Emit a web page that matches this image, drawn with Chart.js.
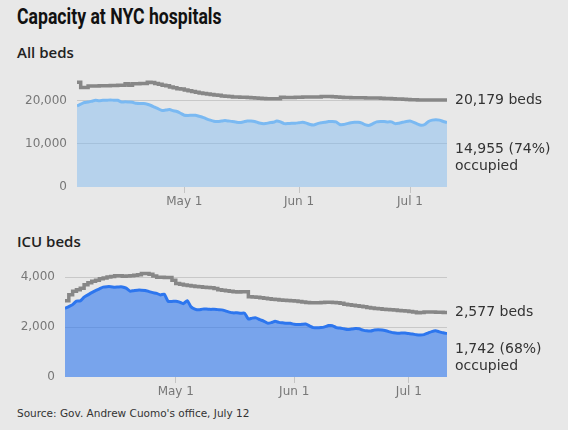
<!DOCTYPE html>
<html>
<head>
<meta charset="utf-8">
<script src="https://cdn.jsdelivr.net/npm/chart.js@4"></script>
<style>
  body { margin: 0; background: #e8e8e8; width: 568px; height: 430px; overflow: hidden; position: relative; font-family: "DejaVu Sans", sans-serif; }
  .title { position: absolute; left: 17px; top: 4px; font: bold 21.5px Roboto, sans-serif; color: #111; transform: scaleX(0.82); transform-origin: left top; white-space: nowrap; }
  .sub { position: absolute; left: 17px; font: 600 15px "Open Sans", sans-serif; color: #222; }
  .src { position: absolute; left: 17px; top: 407px; font-size: 10.5px; color: #333; }
  canvas { position: absolute; left: 0; }
</style>
</head>
<body>
<div class="title">Capacity at NYC hospitals</div>
<div class="sub" style="top:42px">All beds</div>
<div class="sub" style="top:231px">ICU beds</div>
<canvas id="allChart" width="568" height="155" style="top:62px"></canvas>
<canvas id="icuChart" width="568" height="157" style="top:250px"></canvas>
<div class="src">Source: Gov. Andrew Cuomo's office, July 12</div>

<script>
// daily values, Apr 2 -> Jul 11
const monthTicks = [29, 60, 90];
const monthLabels = ['May 1', 'Jun 1', 'Jul 1'];

const allBeds = [
    24300, 23100, 23100, 23400, 23450, 23450, 23500, 23500, 23500, 23550, 23550, 23600, 23600, 23950, 23600,
    23950, 23950, 24000, 24000, 24300, 24250, 24000, 23800, 23600, 23500, 23200, 23000, 22800, 22700, 22500,
    22300, 22150, 22000, 21800, 21700, 21550, 21450, 21350, 21250, 21100, 21050, 21000, 20900, 20850, 20800,
    20800, 20750, 20700, 20650, 20600, 20550, 20450, 20450, 20450, 20450, 20800, 20750, 20750, 20750, 20800,
    20800, 20850, 20850, 20850, 20850, 20900, 21000, 21000, 21000, 20950, 20900, 20800, 20750, 20750, 20700,
    20700, 20700, 20700, 20650, 20650, 20650, 20650, 20600, 20550, 20500, 20450, 20400, 20400, 20350, 20300,
    20250, 20250, 20200, 20200, 20200, 20200, 20200, 20200, 20200, 20180, 20179
];
const allOccupied = [
    18800, 19200, 19600, 19700, 19900, 20100, 20000, 20100, 20100, 20200, 20100, 20100, 19700, 19750, 19700,
    19650, 19400, 19350, 19350, 19200, 18900, 18500, 18100, 17750, 17850, 17950, 17700, 17500, 17100, 16650,
    16600, 16650, 16650, 16400, 16150, 15800, 15500, 15250, 15200, 15300, 15400, 15300, 15200, 15050, 14950,
    15100, 15300, 15300, 15200, 14900, 14700, 14700, 14900, 15000, 15300, 15100, 14700, 14700, 14800, 14800,
    14900, 15000, 14800, 14500, 14400, 14700, 14900, 15000, 15200, 15200, 15100, 14500, 14500, 14700, 14900,
    15000, 15000, 14800, 14400, 14300, 14700, 15100, 15200, 15200, 15100, 15100, 14700, 14800, 15000, 15200,
    15300, 15000, 14600, 14300, 14500, 15200, 15500, 15600, 15500, 15200, 14955
];
const icuBeds = [
    3060, 3300, 3440, 3500, 3560, 3700, 3780, 3840, 3880, 3940, 3970, 4010, 4030, 4060, 4060,
    4040, 4050, 4060, 4080, 4100, 4150, 4150, 4120, 4050, 4000, 4000, 3990, 3990, 3880, 3750,
    3720, 3690, 3670, 3650, 3630, 3620, 3600, 3590, 3580, 3550, 3500, 3480, 3460, 3440, 3420,
    3410, 3420, 3420, 3220, 3210, 3200, 3180, 3160, 3140, 3120, 3110, 3090, 3080, 3070, 3060,
    3050, 3030, 3010, 2990, 2975, 2975, 2980, 2990, 3000, 3000, 2990, 2980, 2960, 2920, 2900,
    2880, 2860, 2840, 2820, 2790, 2770, 2750, 2730, 2710, 2700, 2690, 2680, 2660, 2650, 2640,
    2620, 2600, 2570, 2580, 2600, 2600, 2600, 2590, 2590, 2580, 2577
];
const icuOccupied = [
    2750, 2820, 2900, 3040, 3050, 3200, 3290, 3380, 3460, 3530, 3600, 3620, 3620, 3600, 3610,
    3610, 3560, 3440, 3460, 3480, 3480, 3470, 3420, 3380, 3350, 3290, 3320, 3030, 3030, 3040,
    3000, 2940, 3060, 2810, 2720, 2690, 2720, 2720, 2710, 2710, 2700, 2690, 2650, 2600, 2570,
    2570, 2550, 2560, 2320, 2360, 2370, 2300, 2240, 2160, 2180, 2230, 2190, 2170, 2150, 2150,
    2110, 2100, 2110, 2120, 2050, 1980, 1970, 1980, 2010, 2060, 2060, 1980, 1960, 1930, 1900,
    1920, 1940, 1930, 1880, 1850, 1840, 1880, 1890, 1880, 1850, 1810, 1770, 1750, 1760, 1760,
    1740, 1720, 1690, 1680, 1700, 1760, 1820, 1850, 1810, 1770, 1742
];

Chart.defaults.font.family = '"DejaVu Sans", sans-serif';
Chart.defaults.font.size = 12;
Chart.defaults.color = '#777';

// labels to the right of the plot: total beds at line end, occupied centred in the fill
const endLabels = {
    id: 'endLabels',
    afterDraw(chart) {
        const ctx = chart.ctx, y = chart.scales.y;
        const total = chart.data.datasets[0].data.at(-1).y;
        const occ = chart.data.datasets[1].data.at(-1).y;
        const x = chart.chartArea.right + 8;
        ctx.save();
        ctx.font = '14px "DejaVu Sans", sans-serif';
        ctx.fillStyle = '#333';
        ctx.textBaseline = 'middle';
        ctx.fillText(total.toLocaleString('en-US') + ' beds', x, y.getPixelForValue(total));
        const mid = y.getPixelForValue(occ / 2) + 3;
        const pct = Math.round(occ / total * 100);
        ctx.fillText(occ.toLocaleString('en-US') + ' (' + pct + '%)', x, mid - 8.5);
        ctx.fillText('occupied', x, mid + 8.5);
        ctx.restore();
    }
};

function makePanel(id, total, occupied, o) {
    const pts = arr => arr.map((v, i) => ({ x: i, y: v }));
    return new Chart(document.getElementById(id), {
        type: 'line',
        data: {
            datasets: [
                { data: pts(total), borderColor: '#878787', borderWidth: 3.5, stepped: true, pointRadius: 0, fill: false },
                { data: pts(occupied), borderColor: o.line, backgroundColor: o.fill, borderWidth: 3, pointRadius: 0, tension: 0.2, fill: 'origin' }
            ]
        },
        options: {
            responsive: false,
            animation: false,
            layout: { padding: { top: o.padTop, right: 121, left: 0, bottom: 0 } },
            plugins: { legend: { display: false }, tooltip: { enabled: false } },
            scales: {
                x: {
                    type: 'linear', min: 0, max: total.length - 1,
                    afterBuildTicks: s => { s.ticks = monthTicks.map(v => ({ value: v })); },
                    afterFit: s => { s.height = 30; },
                    ticks: { callback: (v, i) => monthLabels[i], padding: 2, maxRotation: 0 },
                    grid: { drawOnChartArea: false, tickLength: 6, color: '#c4c4c4' },
                    border: { display: false }
                },
                y: {
                    min: 0, max: o.max,
                    afterBuildTicks: s => { s.ticks = o.ticks.map(v => ({ value: v })); },
                    afterFit: s => { s.width = o.axisW; },
                    ticks: { padding: 10, callback: v => v.toLocaleString('en-US') },
                    grid: { drawTicks: false, color: c => c.tick && c.tick.value === 0 ? 'rgba(0,0,0,0)' : '#c8c8c8' },
                    border: { display: false }
                }
            }
        },
        plugins: [endLabels]
    });
}

makePanel('allChart', allBeds, allOccupied, {
    max: 25000, ticks: [0, 10000, 20000], padTop: 11, axisW: 77,
    line: '#7ab9f2', fill: 'rgba(122,185,242,0.45)'
});
makePanel('icuChart', icuBeds, icuOccupied, {
    max: 4400, ticks: [0, 2000, 4000], padTop: 9, axisW: 65,
    line: '#2d76ee', fill: 'rgba(45,118,238,0.6)'
});
</script>
</body>
</html>
